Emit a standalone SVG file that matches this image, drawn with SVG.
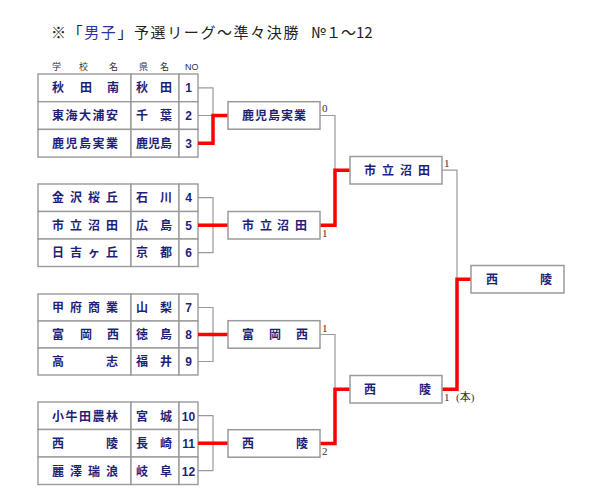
<svg xmlns="http://www.w3.org/2000/svg" width="600" height="500" viewBox="0 0 600 500">
<style>
.bg{fill:#ffffff}
.cell{fill:#ffffff;stroke:#9a9a9a;stroke-width:1.4}
.box{fill:#ffffff;stroke:#9a9a9a;stroke-width:1.5}
.t{font-family:"Noto Sans CJK JP","Noto Sans CJK SC",sans-serif;font-size:12px;font-weight:bold;fill:#1f1f7a}
.n{font-family:"Liberation Sans Narrow","Liberation Sans",sans-serif;font-size:12px;font-weight:bold;fill:#1f1f7a;text-anchor:middle}
.h{font-family:"Noto Sans CJK JP",sans-serif;font-size:9px;fill:#333333}
.hn{font-family:"Liberation Sans Narrow","Liberation Sans",sans-serif;font-size:9px;fill:#333333}
.title{font-family:"Noto Sans CJK JP","Noto Sans CJK SC",sans-serif;font-size:15px;fill:#222222}
.sc{font-family:"Liberation Serif","Noto Sans CJK JP",serif;font-size:11px;fill:#333333}
.g{fill:none;stroke:#9a9a9a;stroke-width:1.2}
.r{fill:none;stroke:#ff0000;stroke-width:3.5;stroke-linejoin:miter;stroke-linecap:butt}
</style>
<rect class="bg" x="0" y="0" width="600" height="500"/>
<text class="title" x="51" y="38" letter-spacing="1.6">※「<tspan fill="#3333a0">男子</tspan>」予選リーグ～準々決勝</text>
<text class="title" x="311" y="38">№１～12</text>
<g id="header">
<text class="h" x="52 79 109" y="70">学校名</text>
<text class="h" x="139 160" y="70">県名</text>
<text class="hn" x="185" y="70">NO</text>
</g>
<g id="block1">
<rect class="cell" x="38" y="74" width="93" height="27.7"/>
<rect class="cell" x="131" y="74" width="48" height="27.7"/>
<rect class="cell" x="179" y="74" width="19" height="27.7"/>
<rect class="cell" x="38" y="101.7" width="93" height="27.7"/>
<rect class="cell" x="131" y="101.7" width="48" height="27.7"/>
<rect class="cell" x="179" y="101.7" width="19" height="27.7"/>
<rect class="cell" x="38" y="129.4" width="93" height="27.7"/>
<rect class="cell" x="131" y="129.4" width="48" height="27.7"/>
<rect class="cell" x="179" y="129.4" width="19" height="27.7"/>
<text class="t" x="52 80 107" y="92.3">秋田南</text>
<text class="t" x="136 160" y="92.3">秋田</text>
<text class="n" x="188.5" y="92.3">1</text>
<text class="t" x="52 65.5 79 92.5 106" y="120">東海大浦安</text>
<text class="t" x="136 160" y="120">千葉</text>
<text class="n" x="188.5" y="120">2</text>
<text class="t" x="52 65.5 79 92.5 106" y="147.7">鹿児島実業</text>
<text class="t" x="136 148 160" y="147.7">鹿児島</text>
<text class="n" x="188.5" y="147.7">3</text>
</g>
<g id="block2">
<rect class="cell" x="38" y="184" width="93" height="27.5"/>
<rect class="cell" x="131" y="184" width="48" height="27.5"/>
<rect class="cell" x="179" y="184" width="19" height="27.5"/>
<rect class="cell" x="38" y="211.5" width="93" height="27.5"/>
<rect class="cell" x="131" y="211.5" width="48" height="27.5"/>
<rect class="cell" x="179" y="211.5" width="19" height="27.5"/>
<rect class="cell" x="38" y="239" width="93" height="27.5"/>
<rect class="cell" x="131" y="239" width="48" height="27.5"/>
<rect class="cell" x="179" y="239" width="19" height="27.5"/>
<text class="t" x="52 70 88 106" y="202.2">金沢桜丘</text>
<text class="t" x="136 160" y="202.2">石川</text>
<text class="n" x="188.5" y="202.2">4</text>
<text class="t" x="52 70 88 106" y="229.7">市立沼田</text>
<text class="t" x="136 160" y="229.7">広島</text>
<text class="n" x="188.5" y="229.7">5</text>
<text class="t" x="52 70 88 106" y="257.2">日吉ヶ丘</text>
<text class="t" x="136 160" y="257.2">京都</text>
<text class="n" x="188.5" y="257.2">6</text>
</g>
<g id="block3">
<rect class="cell" x="38" y="294" width="93" height="27"/>
<rect class="cell" x="131" y="294" width="48" height="27"/>
<rect class="cell" x="179" y="294" width="19" height="27"/>
<rect class="cell" x="38" y="321" width="93" height="27"/>
<rect class="cell" x="131" y="321" width="48" height="27"/>
<rect class="cell" x="179" y="321" width="19" height="27"/>
<rect class="cell" x="38" y="348" width="93" height="27"/>
<rect class="cell" x="131" y="348" width="48" height="27"/>
<rect class="cell" x="179" y="348" width="19" height="27"/>
<text class="t" x="52 70 88 106" y="312">甲府商業</text>
<text class="t" x="136 160" y="312">山梨</text>
<text class="n" x="188.5" y="312">7</text>
<text class="t" x="52 80 107" y="339">富岡西</text>
<text class="t" x="136 160" y="339">徳島</text>
<text class="n" x="188.5" y="339">8</text>
<text class="t" x="52 106" y="366">高志</text>
<text class="t" x="136 160" y="366">福井</text>
<text class="n" x="188.5" y="366">9</text>
</g>
<g id="block4">
<rect class="cell" x="38" y="402" width="93" height="27.5"/>
<rect class="cell" x="131" y="402" width="48" height="27.5"/>
<rect class="cell" x="179" y="402" width="19" height="27.5"/>
<rect class="cell" x="38" y="429.5" width="93" height="27.5"/>
<rect class="cell" x="131" y="429.5" width="48" height="27.5"/>
<rect class="cell" x="179" y="429.5" width="19" height="27.5"/>
<rect class="cell" x="38" y="457" width="93" height="27.5"/>
<rect class="cell" x="131" y="457" width="48" height="27.5"/>
<rect class="cell" x="179" y="457" width="19" height="27.5"/>
<text class="t" x="52 65.5 79 92.5 106" y="420.5">小牛田農林</text>
<text class="t" x="136 160" y="420.5">宮城</text>
<text class="n" x="188.5" y="420.5">10</text>
<text class="t" x="52 106" y="448">西陵</text>
<text class="t" x="136 160" y="448">長崎</text>
<text class="n" x="188.5" y="448">11</text>
<text class="t" x="52 70 88 106" y="475.5">麗澤瑞浪</text>
<text class="t" x="136 160" y="475.5">岐阜</text>
<text class="n" x="188.5" y="475.5">12</text>
</g>
<g id="connectors">
<path class="g" d="M198 87.8H213V143.2M198 115.5H213"/>
<path class="g" d="M198 197.7H213V252.7H198"/>
<path class="g" d="M198 307.5H213V361.5H198"/>
<path class="g" d="M198 415.7H213V470.7H198"/>
<path class="g" d="M320 115.5H335V170.2"/>
<path class="g" d="M320 334.5H335V389.2"/>
<path class="g" d="M442 170.2H457V279.2"/>
<path class="r" d="M198 143.2H213V115.5H228"/>
<path class="r" d="M198 225.2H228"/>
<path class="r" d="M198 334.5H228"/>
<path class="r" d="M198 443.2H228"/>
<path class="r" d="M320 225.2H335V170.2H350"/>
<path class="r" d="M320 443.5H335V389.2H350"/>
<path class="r" d="M442 389.2H457V279.2H471"/>
</g>
<g id="r1-kagoshima">
<rect class="box" x="228" y="101.7" width="92" height="27.5"/>
<text class="t" x="242 255 268 281 294" y="120">鹿児島実業</text>
<text class="sc" x="322" y="112">0</text>
</g>
<g id="r1-numata">
<rect class="box" x="228" y="211.5" width="92" height="27.5"/>
<text class="t" x="242 260 277 295" y="229.7">市立沼田</text>
<text class="sc" x="322" y="237">1</text>
</g>
<g id="r1-tomioka">
<rect class="box" x="228" y="320.7" width="92" height="27.5"/>
<text class="t" x="242 269 296" y="339">富岡西</text>
<text class="sc" x="322" y="332">1</text>
</g>
<g id="r1-seiryo">
<rect class="box" x="228" y="429.7" width="92" height="27.5"/>
<text class="t" x="242 296" y="448">西陵</text>
<text class="sc" x="322" y="455">2</text>
</g>
<g id="r2-numata">
<rect class="box" x="350" y="156.5" width="92" height="27.5"/>
<text class="t" x="364 382 400 418" y="174.7">市立沼田</text>
<text class="sc" x="444" y="167">1</text>
</g>
<g id="r2-seiryo">
<rect class="box" x="350" y="375.5" width="92" height="27.5"/>
<text class="t" x="364 419" y="393.7">西陵</text>
<text class="sc" x="444" y="401">1 <tspan x="456">(本)</tspan></text>
</g>
<g id="final-seiryo">
<rect class="box" x="471" y="265.5" width="93" height="27.5"/>
<text class="t" x="486 540" y="283.7">西陵</text>
</g>
</svg>
